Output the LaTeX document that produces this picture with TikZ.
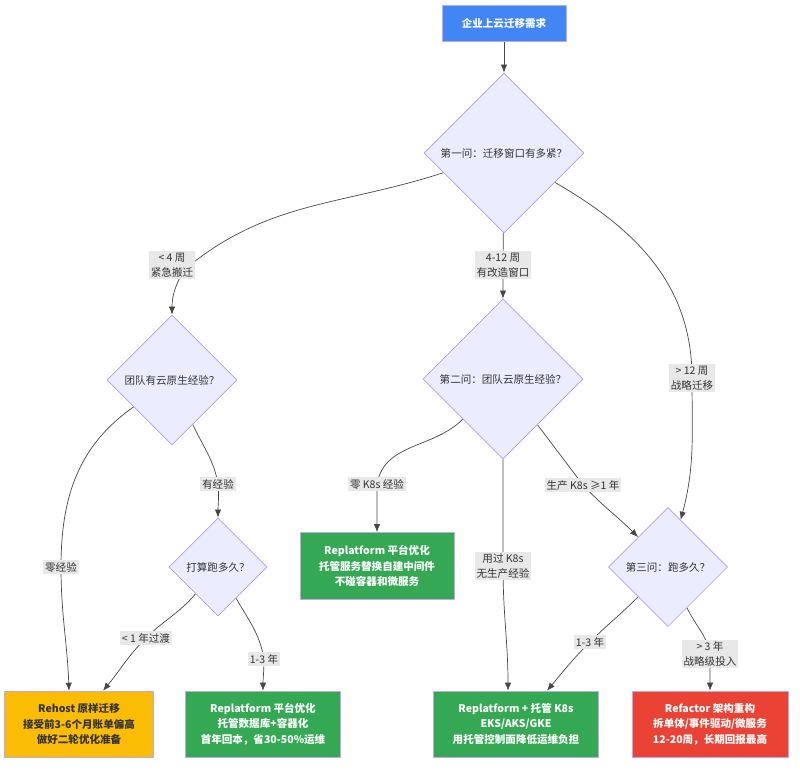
\documentclass[tikz,border=0pt]{standalone}
\usepackage{fontspec}
\setmainfont{Noto Sans CJK SC}
\usepackage{xcolor}
\usetikzlibrary{arrows.meta,positioning,shapes.geometric}
\definecolor{qfill}{HTML}{ECECFF}
\definecolor{qline}{HTML}{9370DB}
\definecolor{gblue}{HTML}{4285F4}
\definecolor{gyellow}{HTML}{FBBC04}
\definecolor{ggreen}{HTML}{34A853}
\definecolor{gred}{HTML}{EA4335}
\definecolor{lblbg}{HTML}{E8E8E8}
\definecolor{ink}{HTML}{333333}
\pgfdeclarelayer{bg}
\pgfsetlayers{bg,main}

\begin{document}
\begin{tikzpicture}[
  x=0.025cm, y=-0.025cm,
  font=\fontsize{7.5}{11}\selectfont,
  question/.style={diamond, draw=qline!70, fill=qfill, aspect=1, inner sep=0pt, text=ink, line width=0.5pt},
  outcome/.style={draw=qline!60, minimum height=1.65cm, align=center, text=white, inner sep=2pt, font=\fontsize{7.5}{11}\selectfont\bfseries},
  edgelbl/.style={fill=lblbg, text=ink, align=center, inner sep=1.5pt, font=\fontsize{7.5}{10.5}\selectfont},
  arrow/.style={-{Latex[length=2mm,width=1.6mm]}, draw=ink!90, line width=0.5pt}
]
\useasboundingbox (0,0) rectangle (800,771);

\node[outcome, fill=gblue, minimum width=3.1cm, minimum height=0.9cm] (start) at (504,23) {企业上云迁移需求};

\node[question, minimum size=4cm] (d1) at (504,153) {第一问：迁移窗口有多紧？};
\node[question, minimum size=3.25cm] (d2) at (172,380) {团队有云原生经验？};
\node[question, minimum size=4cm] (d3) at (503,379) {第二问：团队云原生经验？};
\node[question, minimum size=2.45cm] (d4) at (218,567) {打算跑多久？};
\node[question, minimum size=2.98cm] (d5) at (668,567) {第三问：跑多久？};

\node[outcome, fill=ggreen, minimum width=3.85cm, minimum height=1.68cm] (repA) at (377,566) {Replatform 平台优化\\托管服务替换自建中间件\\不碰容器和微服务};
\node[outcome, fill=gyellow, text=ink, minimum width=3.73cm] (rehost) at (79,724) {Rehost 原样迁移\\接受前3-6个月账单偏高\\做好二轮优化准备};
\node[outcome, fill=ggreen, minimum width=3.88cm] (rep2) at (263,724) {Replatform 平台优化\\托管数据库+容器化\\首年回本，省30-50\%运维};
\node[outcome, fill=ggreen, minimum width=4.13cm] (k8s) at (516,724) {Replatform + 托管 K8s\\EKS/AKS/GKE\\用托管控制面降低运维负担};
\node[outcome, fill=gred, minimum width=3.9cm] (refactor) at (710,724) {Refactor 架构重构\\拆单体/事件驱动/微服务\\12-20周，长期回报最高};

\node[edgelbl] (l1) at (172,265) {< 4 周\\紧急搬迁};
\node[edgelbl] (l2) at (503,265) {4-12 周\\有改造窗口};
\node[edgelbl] (l3) at (692,378) {> 12 周\\战略迁移};
\node[edgelbl] (l4) at (218,484) {有经验};
\node[edgelbl] (l5) at (61,567) {零经验};
\node[edgelbl] (l6) at (146,638) {< 1 年过渡};
\node[edgelbl] (l7) at (264,659) {1-3 年};
\node[edgelbl] (l8) at (377,484) {零 K8s 经验};
\node[edgelbl] (l9) at (503,566) {用过 K8s\\无生产经验};
\node[edgelbl] (l10) at (583,485) {生产 K8s ≥1 年};
\node[edgelbl] (l11) at (590,642) {1-3 年};
\node[edgelbl] (l12) at (710,654) {> 3 年\\战略级投入};

\begin{pgfonlayer}{bg}
\draw[arrow] (start) -- (d1);
\draw[arrow] (d1) to[out=198,in=40] ([shift={(12,5)}]l1.center) to[out=240,in=90] (d2);
\draw[arrow] (d1) -- (l2.center) -- (d3);
\draw[arrow] (d1) to[out=-30,in=90] (l3.center) to[out=-90,in=75] (d5);
\draw[arrow] (d2) to[out=215,in=90] (l5.center) to[out=-90,in=92] ([xshift=-0.25cm]rehost.north);
\draw[arrow] (d2) to[out=-65,in=100] (l4.center) to[out=-85,in=90] (d4);
\draw[arrow] (d4) to[out=230,in=45] (l6.center) to[out=225,in=50] ([xshift=0.6cm]rehost.north);
\draw[arrow] (d4) to[out=-60,in=100] (l7.center) to[out=-90,in=90] (rep2);
\draw[arrow] (d3) to[out=225,in=80] (l8.center) to[out=-90,in=90] (repA);
\draw[arrow] (d3) -- (l9.center) to[out=-90,in=90] ([xshift=-0.2cm]k8s.north);
\draw[arrow] (d3) to[out=-53,in=127] (l10.center) to[out=-47,in=135] (d5);
\draw[arrow] (d5) to[out=225,in=45] (l11.center) to[out=225,in=50] ([xshift=0.775cm]k8s.north);
\draw[arrow] (d5) to[out=-65,in=100] (l12.center) to[out=-90,in=90] (refactor);
\end{pgfonlayer}
\end{tikzpicture}
\end{document}
